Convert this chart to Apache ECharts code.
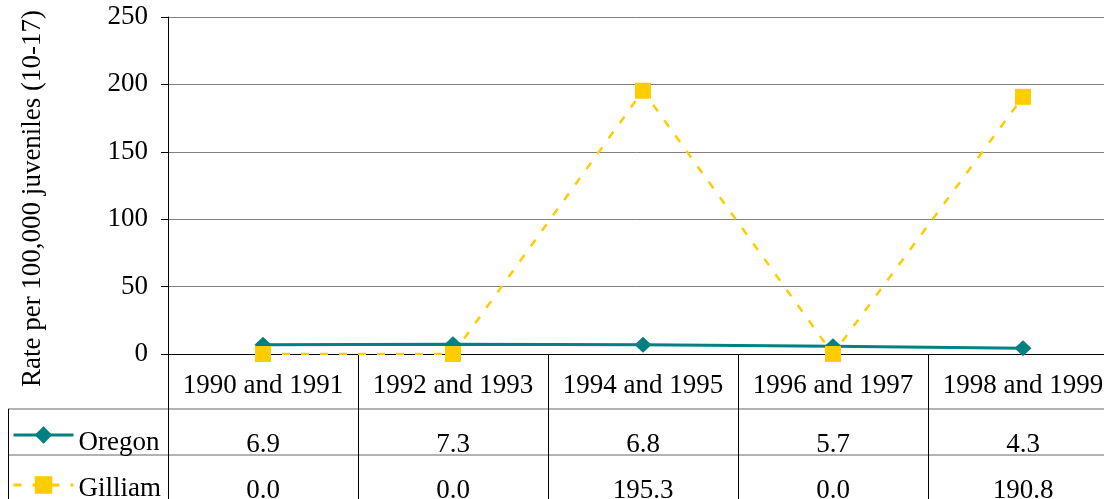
<!DOCTYPE html>
<html>
<head>
<meta charset="utf-8">
<script src="https://cdn.jsdelivr.net/npm/echarts@6/dist/echarts.min.js"></script>
<style>
html,body{margin:0;padding:0;background:#fff;}
#chart{width:1104px;height:499px;}
</style>
</head>
<body>
<div id="chart"></div>
<script>
const categories = ['1990 and 1991', '1992 and 1993', '1994 and 1995', '1996 and 1997', '1998 and 1999'];
const oregon = [6.9, 7.3, 6.8, 5.7, 4.3];
const gilliam = [0.0, 0.0, 195.3, 0.0, 190.8];
const yTicks = [0, 50, 100, 150, 200, 250];
const yName = 'Rate per 100,000 juveniles (10-17)';

const FONT = '"Liberation Serif", "Times New Roman", serif';
const FS = 27;
const L = 168, T = 17, BAND = 190, H = 337;
const RIGHT = 1104 - (L + BAND * categories.length);   // negative: last column runs past the edge
const AX = T + H;           // 354
const ROW1 = 409, ROW2 = 455, TB = 499;

const chart = echarts.init(document.getElementById('chart'), null, {renderer: 'canvas'});

const hiddenY = (gi) => ({type: 'value', gridIndex: gi, show: false, min: 0, max: 1});
const rowAxis = (gi, values) => ({
  type: 'category', gridIndex: gi, data: categories, position: 'top',
  axisLine: {show: false}, axisTick: {show: false}, splitLine: {show: false},
  axisLabel: {inside: true, interval: 0, margin: 22, color: '#000', fontFamily: FONT, fontSize: FS,
    formatter: (v, i) => values[i].toFixed(1)}
});
// legend text sits a little lower than its icon in the reference: a tall empty spacer token
// makes the line taller and the name token is aligned to the bottom of that line
const legendRow = (name, top, lineH) => ({
  data: [name], left: 12, top: top, padding: 0, itemWidth: 60, itemHeight: 22, itemGap: 5,
  lineStyle: {width: 3},
  formatter: (n) => '{s|}{t|' + n + '}',
  textStyle: {fontFamily: FONT, fontSize: FS, color: '#000',
    rich: {s: {width: 0, height: lineH}, t: {fontFamily: FONT, fontSize: FS, color: '#000', verticalAlign: 'bottom'}}}
});

chart.setOption({
  animation: false,
  backgroundColor: '#fff',
  textStyle: {fontFamily: FONT, fontSize: FS, color: '#000'},
  grid: [
    {left: L, top: T, right: RIGHT, height: H, outerBoundsMode: 'none', containLabel: false},
    {left: L, top: ROW1, right: RIGHT, height: ROW2 - ROW1, outerBoundsMode: 'none', containLabel: false},
    {left: L, top: ROW2, right: RIGHT, height: TB - ROW2, outerBoundsMode: 'none', containLabel: false}
  ],
  legend: [
    legendRow('Oregon', 421.5, 43),
    legendRow('Gilliam', 471.5, 35)
  ],
  xAxis: [
    {type: 'category', gridIndex: 0, data: categories, boundaryGap: true,
     axisLine: {lineStyle: {color: '#000', width: 1}},
     axisTick: {show: true, interval: 0, length: TB - AX, lineStyle: {color: '#000', width: 1}},
     axisLabel: {interval: 0, margin: 18, color: '#000', fontFamily: FONT, fontSize: FS},
     splitLine: {show: false}},
    rowAxis(1, oregon),
    rowAxis(2, gilliam)
  ],
  yAxis: [
    {type: 'value', gridIndex: 0, min: yTicks[0], max: yTicks[yTicks.length - 1], interval: 50,
     name: yName, nameLocation: 'middle', nameRotate: 90, nameGap: 122,
     nameTextStyle: {fontFamily: FONT, fontSize: FS, color: '#000', padding: [0, 26, 0, 0]},
     axisLine: {show: true, lineStyle: {color: '#000', width: 1}},
     axisTick: {show: true, length: 7, lineStyle: {color: '#000', width: 1}},
     axisLabel: {margin: 20, color: '#000', fontFamily: FONT, fontSize: FS},
     splitLine: {show: true, lineStyle: {color: '#808080', width: 1}}},
    hiddenY(1),
    hiddenY(2)
  ],
  graphic: [
    {type: 'line', shape: {x1: 8, y1: ROW1, x2: 1104, y2: ROW1}, style: {stroke: '#666', lineWidth: 1}, silent: true},
    {type: 'line', shape: {x1: 8, y1: ROW2, x2: 1104, y2: ROW2}, style: {stroke: '#666', lineWidth: 1}, silent: true},
    {type: 'line', shape: {x1: 8.5, y1: ROW1, x2: 8.5, y2: TB}, style: {stroke: '#000', lineWidth: 1}, silent: true}
  ],
  series: [
    {name: 'Oregon', type: 'line', xAxisIndex: 0, yAxisIndex: 0, data: oregon,
     symbol: 'diamond', symbolSize: [17, 16], showSymbol: true,
     lineStyle: {color: '#008080', width: 3}, itemStyle: {color: '#008080'}, z: 2},
    {name: 'Gilliam', type: 'line', xAxisIndex: 0, yAxisIndex: 0, data: gilliam,
     symbol: 'rect', symbolSize: 16, showSymbol: true,
     lineStyle: {color: '#FFCC00', width: 2.5, type: [8, 11]}, itemStyle: {color: '#FFCC00'}, z: 3}
  ]
});
</script>
</body>
</html>
